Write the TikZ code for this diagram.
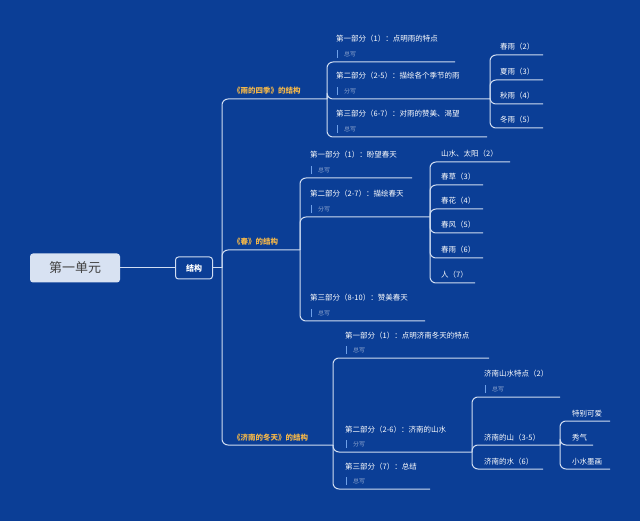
\documentclass[tikz,border=0pt]{standalone}
\usepackage{fontspec}
\setmainfont{Noto Sans CJK SC}
\definecolor{bg}{HTML}{0B3E96}
\definecolor{ln}{HTML}{D0DDF2}
\definecolor{org}{HTML}{F2B64A}
\definecolor{sub}{HTML}{8FA6CF}
\definecolor{bar}{HTML}{6FA0E8}
\definecolor{rootf}{HTML}{D8E2F2}
\tikzset{
  conn/.style={draw=ln,line width=1pt,rounded corners=6pt},
  lab/.style={text=white,font=\fontsize{7.5}{9}\selectfont,inner sep=0pt,anchor=base west},
  lv1/.style={text=org,font=\fontsize{7.5}{9}\selectfont\bfseries,inner sep=0pt,anchor=base west},
  sb/.style={text=sub,font=\fontsize{6}{7}\selectfont,inner sep=0pt,anchor=base west}
}
% #1 name, #2 parent, #3 text, #4 text x, #5 line y, #6 line end x, #7 style
\newcommand\mmb[7]{%
  \coordinate (#1) at (#6,#5);
  \draw[conn] (#2) |- (#1);
  \node[#7] (#1t) at (#4,#5-5) {#3};}
% with sub label
\newcommand\mmbs[7]{%
  \coordinate (#1) at (#6,#5);
  \draw[conn] (#2) |- (#1);
  \node[lab] (#1t) at (#4,#5-20) {#3};
  \node[sb] (#1s) at (#4+8,#5-5.5) {#7};
  \draw[bar,line width=1pt] (#4+1,#5-4) -- (#4+1,#5-12);}
\begin{document}
\begin{tikzpicture}[x=1pt,y=-1pt]
\fill[bg] (0,0) rectangle (640,521);
\useasboundingbox (0,0) rectangle (640,521);
\node[fill=rootf,rounded corners=3pt,minimum width=90pt,minimum height=29pt,inner sep=0pt,
  font=\fontsize{13}{15}\selectfont,text=black!75] (root) at (75,268) {第一单元};
\node[draw=ln,line width=1pt,fill=bg,rounded corners=3pt,minimum width=37pt,minimum height=22pt,inner sep=0pt,
  font=\fontsize{8}{10}\selectfont\bfseries,text=white] (jg) at (194,268) {结构};
\draw[conn] (root.east) -- (jg.west);
\coordinate (t0) at (222,268);
\draw[conn] (jg.east) -- (t0);
% level 1
\mmb{yu}{t0}{《雨的四季》的结构}{233}{99}{327}{lv1}
\mmb{ch}{t0}{《春》的结构}{233}{250}{300}{lv1}
\mmb{jn}{t0}{《济南的冬天》的结构}{233}{445}{333}{lv1}
% 雨
\mmbs{y1}{yu}{第一部分（1）：点明雨的特点}{336}{62}{455}{总写}
\mmbs{y2}{yu}{第二部分（2-5）：描绘各个季节的雨}{336}{99}{490}{分写}
\mmbs{y3}{yu}{第三部分（6-7）：对雨的赞美、渴望}{336}{137}{487}{总写}
\mmb{s1}{y2}{春雨（2）}{500}{55}{543}{lab}
\mmb{s2}{y2}{夏雨（3）}{500}{80}{543}{lab}
\mmb{s3}{y2}{秋雨（4）}{500}{104}{543}{lab}
\mmb{s4}{y2}{冬雨（5）}{500}{128}{543}{lab}
% 春
\mmbs{c1}{ch}{第一部分（1）：盼望春天}{310}{178}{412}{总写}
\mmbs{c2}{ch}{第二部分（2-7）：描绘春天}{310}{217}{430}{分写}
\mmbs{c3}{ch}{第三部分（8-10）：赞美春天}{310}{321}{425}{总写}
\mmb{d1}{c2}{山水、太阳（2）}{441}{162}{510}{lab}
\mmb{d2}{c2}{春草（3）}{441}{185}{483}{lab}
\mmb{d3}{c2}{春花（4）}{441}{209}{483}{lab}
\mmb{d4}{c2}{春风（5）}{441}{233}{483}{lab}
\mmb{d5}{c2}{春雨（6）}{441}{258}{483}{lab}
\mmb{d6}{c2}{人（7）}{441}{283}{475}{lab}
% 济南
\mmbs{j1}{jn}{第一部分（1）：点明济南冬天的特点}{345}{358}{489}{总写}
\mmbs{j2}{jn}{第二部分（2-6）：济南的山水}{345}{452}{472}{分写}
\mmbs{j3}{jn}{第三部分（7）：总结}{345}{489}{430}{总写}
\mmbs{k1}{j2}{济南山水特点（2）}{484}{397}{560}{总写}
\mmb{k2}{j2}{济南的山（3-5）}{484}{445}{560}{lab}
\mmb{k3}{j2}{济南的水（6）}{484}{469}{543}{lab}
\mmb{m1}{k2}{特别可爱}{572}{421}{610}{lab}
\mmb{m2}{k2}{秀气}{572}{445}{593}{lab}
\mmb{m3}{k2}{小水墨画}{572}{469}{610}{lab}
\end{tikzpicture}
\end{document}
